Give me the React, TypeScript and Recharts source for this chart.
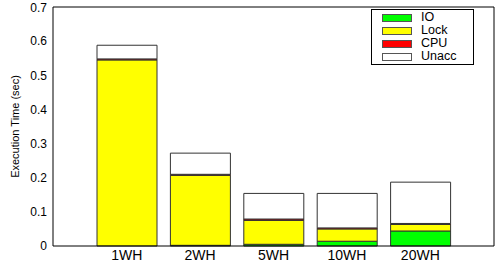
import React from 'react';
import { BarChart, Bar, XAxis, YAxis } from 'recharts';

const categories = ['1WH', '2WH', '5WH', '10WH', '20WH'];
const io = [0, 0.002, 0.005, 0.014, 0.044];
const lock = [0.545, 0.205, 0.07, 0.036, 0.019];
const cpu = [0.003, 0.003, 0.004, 0.003, 0.003];
const unacc = [0.04, 0.062, 0.075, 0.101, 0.121];
const yTicks = [0, 0.1, 0.2, 0.3, 0.4, 0.5, 0.6, 0.7];

const series = [
  { key: 'IO', color: '#00ff00' },
  { key: 'Lock', color: '#ffff00' },
  { key: 'CPU', color: '#ff0000' },
  { key: 'Unacc', color: '#ffffff' },
];

const data = categories.map((name, i) => ({
  name,
  IO: io[i],
  Lock: lock[i],
  CPU: cpu[i],
  Unacc: unacc[i],
}));

const font = '"Liberation Sans", Arial, sans-serif';

function LegendBox() {
  return (
    <div style={{ position: 'absolute', left: 371, top: 9, width: 101, padding: '1px 0', background: '#fff', border: '1px solid #000', fontFamily: font }}>
      {series.map(s => (
        <div key={s.key} style={{ display: 'flex', alignItems: 'center', height: 13 }}>
          <span style={{ display: 'inline-block', width: 28, height: 6, background: s.color, border: '1px solid #555', marginLeft: 10, marginRight: 9 }} />
          <span style={{ fontSize: 12.5, color: '#000', lineHeight: '13px' }}>{s.key}</span>
        </div>
      ))}
    </div>
  );
}

export default function App() {
  return (
    <div style={{ position: 'absolute', left: 0, top: 0, width: 496, height: 264, background: '#fff' }}>
      <BarChart width={496} height={264} data={data} margin={{ top: 7, right: 2, bottom: 0, left: 0 }}>
        <XAxis dataKey="name" padding={{ left: 37, right: 37 }} tickLine={false} tickSize={0} tickMargin={4}
          axisLine={{ stroke: '#000' }} height={18}
          tick={{ fontSize: 14, fill: '#000', fontFamily: font }} />
        <XAxis xAxisId="top" dataKey="name" orientation="top" mirror padding={{ left: 37, right: 37 }}
          tick={false} tickSize={4} tickLine={{ stroke: '#000' }} axisLine={{ stroke: '#000' }} height={1} />
        <YAxis domain={[0, 0.7]} ticks={yTicks} width={53} tickLine={false} tickSize={0} tickMargin={6}
          axisLine={{ stroke: '#000' }} tickFormatter={(v: number) => (v === 0 ? '0' : v.toFixed(1))}
          tick={{ fontSize: 12, fill: '#000', fontFamily: font }}
          label={{ value: 'Execution Time (sec)', angle: -90, position: 'center', dx: -11, fontSize: 11, fill: '#000', fontFamily: font }} />
        <YAxis yAxisId="li" domain={[0, 0.7]} ticks={yTicks} mirror width={1} tick={false} tickSize={5}
          tickLine={{ stroke: '#000' }} axisLine={false} />
        <YAxis yAxisId="r" orientation="right" domain={[0, 0.7]} ticks={yTicks} mirror width={1} tick={false} tickSize={5}
          tickLine={{ stroke: '#000' }} axisLine={{ stroke: '#000' }} />
        {series.map(s => (
          <Bar key={s.key} dataKey={s.key} stackId="a" fill={s.color} stroke="#333" strokeWidth={1}
            barSize={60} isAnimationActive={false} />
        ))}
      </BarChart>
      <LegendBox />
    </div>
  );
}
